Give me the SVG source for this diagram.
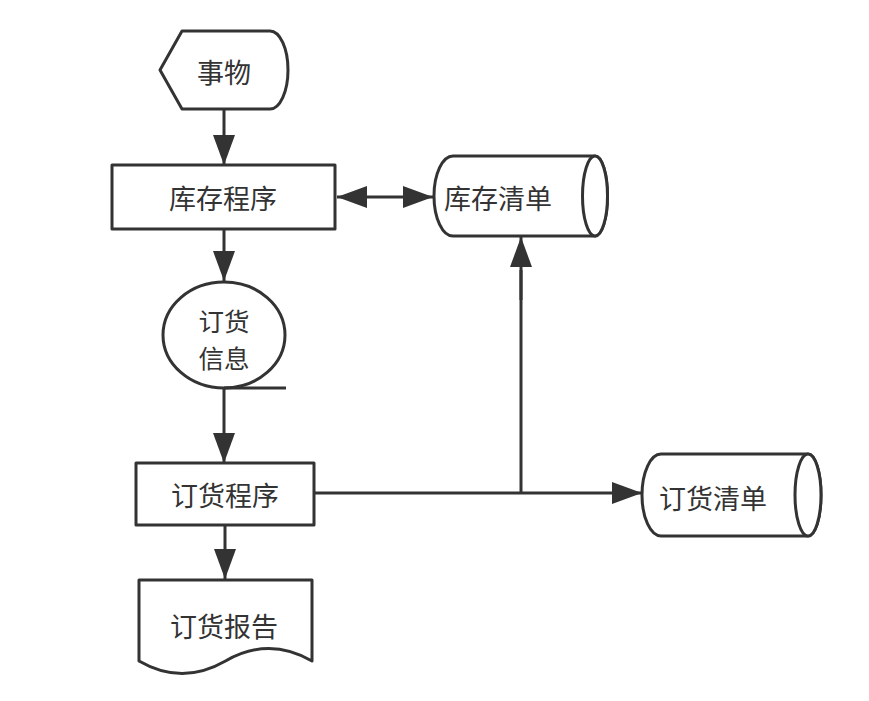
<svg xmlns="http://www.w3.org/2000/svg" width="869" height="701" viewBox="0 0 869 701">
<defs>
<style>
.s{fill:#ffffff;stroke:#333333;stroke-width:3;stroke-linejoin:round}
.t{font-family:"Noto Sans CJK SC","Noto Sans",sans-serif;font-size:27px;fill:#333333;text-anchor:middle;dominant-baseline:central}
.c{fill:none;stroke:#333333;stroke-width:3}
</style>
<marker id="ah" viewBox="0 0 30 22" refX="30" refY="11" markerWidth="30" markerHeight="22" markerUnits="userSpaceOnUse" orient="auto-start-reverse">
<path d="M0,0 L30,11 L0,22 Z" fill="#333333"/>
</marker>
</defs>
<rect width="869" height="701" fill="#ffffff"/>
<g id="connectors">
<line class="c" x1="224" y1="110" x2="224" y2="165" marker-end="url(#ah)"/>
<line class="c" x1="224" y1="229" x2="224" y2="281" marker-end="url(#ah)"/>
<line class="c" x1="224" y1="388" x2="224" y2="463" marker-end="url(#ah)"/>
<line class="c" x1="225" y1="525" x2="225" y2="579" marker-end="url(#ah)"/>
<line class="c" x1="337" y1="197" x2="433" y2="197" marker-start="url(#ah)" marker-end="url(#ah)"/>
<line class="c" x1="314" y1="493" x2="642" y2="493" marker-end="url(#ah)"/>
<polyline class="c" points="521,493 521,270"/>
<line class="c" x1="521" y1="300" x2="521" y2="237" marker-end="url(#ah)"/>
</g>
<g id="n-shiwu">
<path class="s" d="M182,31 H270 A18,39 0 0 1 270,109 H182 L160,70 Z"/>
<text class="t" x="224" y="71">事物</text>
</g>
<g id="n-kucun-chengxu">
<rect class="s" x="112" y="165" width="223" height="64"/>
<text class="t" x="223" y="197">库存程序</text>
</g>
<g id="n-kucun-qingdan">
<path class="s" d="M453,156 H595 A12.5,40 0 0 1 595,236 H453 A19,40 0 0 1 453,156 Z"/>
<ellipse class="s" cx="595" cy="196" rx="12.5" ry="40"/>
<text class="t" x="498" y="197">库存清单</text>
</g>
<g id="n-dinghuo-xinxi">
<ellipse class="s" cx="224" cy="335" rx="61" ry="53"/>
<line class="c" x1="224" y1="388" x2="286" y2="388"/>
<text class="t" style="font-size:25.5px"><tspan x="224" y="318.5">订货</tspan><tspan x="224" y="356">信息</tspan></text>
</g>
<g id="n-dinghuo-chengxu">
<rect class="s" x="136" y="463" width="178" height="62"/>
<text class="t" x="225" y="494">订货程序</text>
</g>
<g id="n-dinghuo-qingdan">
<path class="s" d="M661,454 H808 A13,41 0 0 1 808,536 H661 A19,41 0 0 1 661,454 Z"/>
<ellipse class="s" cx="808" cy="495" rx="13" ry="41"/>
<text class="t" x="713" y="497">订货清单</text>
</g>
<g id="n-dinghuo-baogao">
<path class="s" d="M139,580 H312 V661 Q268.75,636 225.5,661 Q182,686 139,661 Z"/>
<text class="t" x="224" y="625">订货报告</text>
</g>
</svg>
